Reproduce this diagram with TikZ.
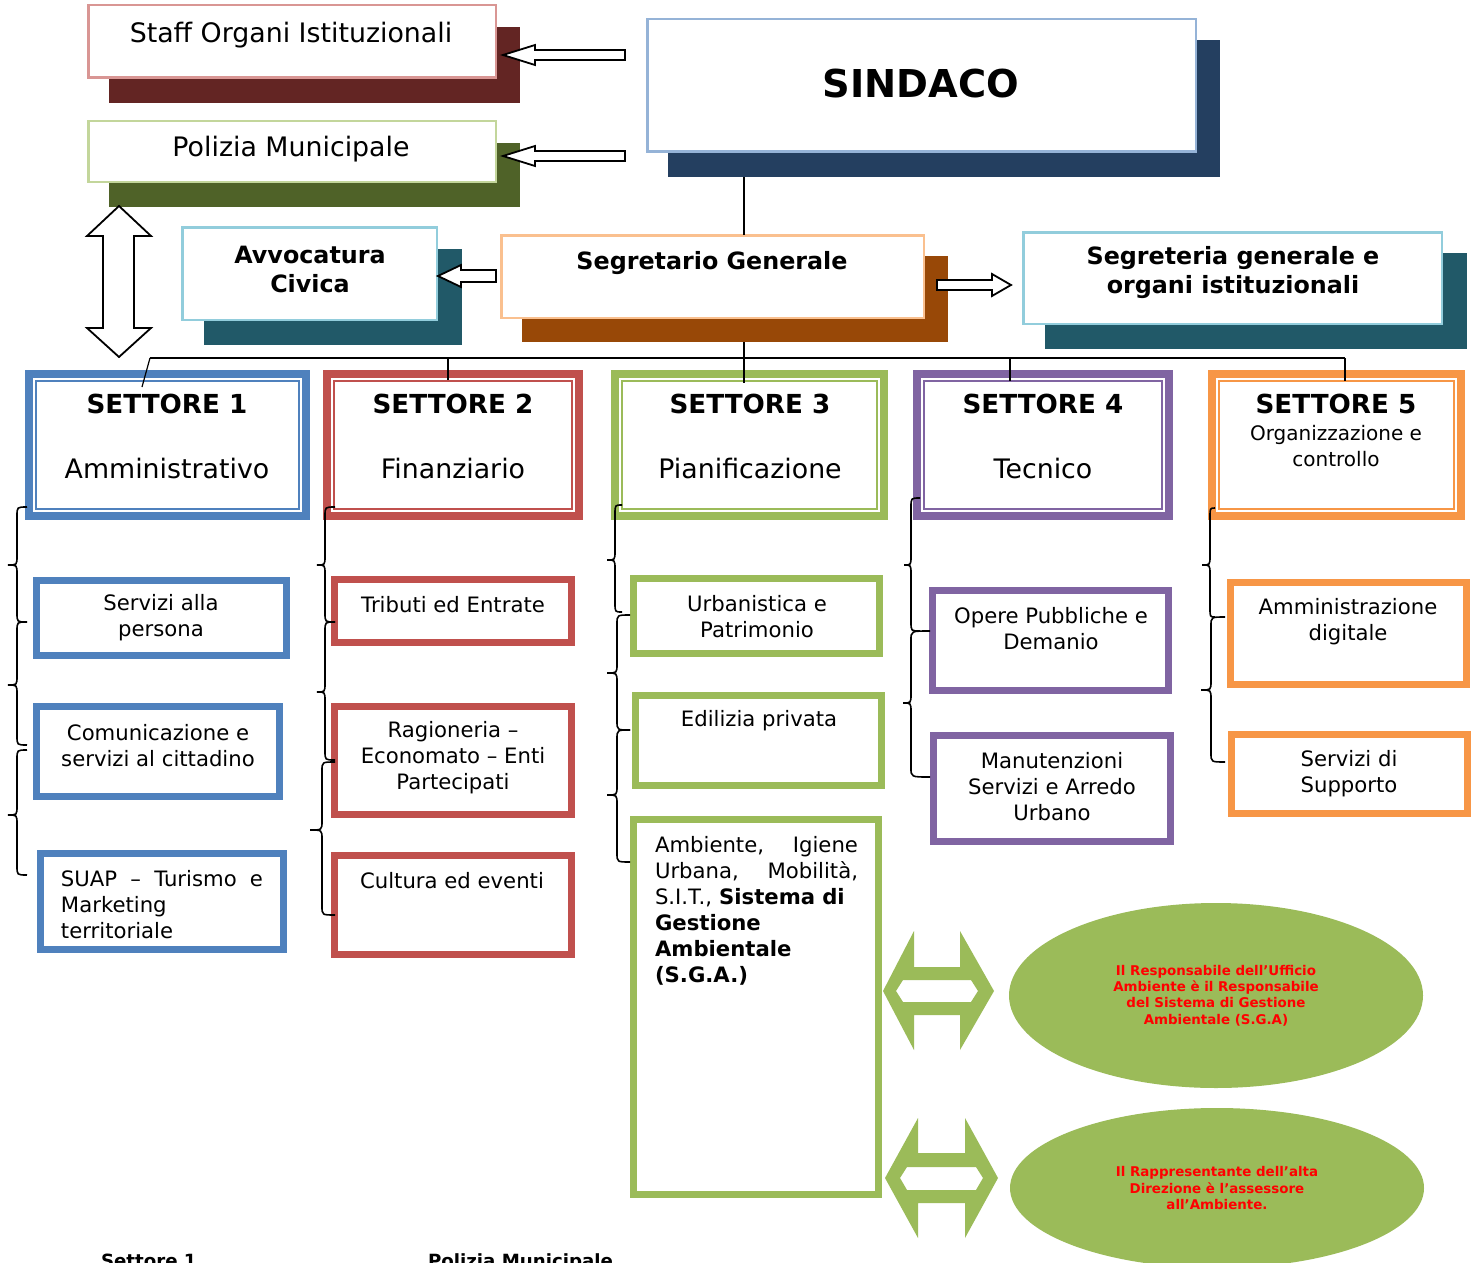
\documentclass[tikz,border=0pt]{standalone}
\usepackage{fontspec}
\setmainfont{DejaVu Sans}
\usetikzlibrary{shapes.geometric,calc}
\definecolor{cStaffB}{HTML}{D99694}
\definecolor{cStaffS}{HTML}{632523}
\definecolor{cPolB}{HTML}{C3D69B}
\definecolor{cPolS}{HTML}{4F6228}
\definecolor{cSindB}{HTML}{95B3D7}
\definecolor{cSindS}{HTML}{243F60}
\definecolor{cCyanB}{HTML}{92CDDC}
\definecolor{cTealS}{HTML}{215968}
\definecolor{cSegB}{HTML}{FAC08F}
\definecolor{cSegS}{HTML}{984807}
\definecolor{cBlue}{HTML}{4F81BD}
\definecolor{cRed}{HTML}{C0504D}
\definecolor{cGreen}{HTML}{9BBB59}
\definecolor{cPurple}{HTML}{8064A2}
\definecolor{cOrange}{HTML}{F79646}
\definecolor{cText}{HTML}{FF0000}
\newcommand{\ftitle}{\fontsize{13.4}{16}\selectfont}
\newcommand{\fsind}{\bfseries\fontsize{19.2}{23}\selectfont}
\newcommand{\fboldt}{\bfseries\fontsize{11.9}{14.5}\selectfont}
\newcommand{\fset}{\bfseries\fontsize{13.1}{16}\selectfont}
\newcommand{\fsub}{\fontsize{10.6}{13}\selectfont}
\newcommand{\fsfive}{\fontsize{10}{13}\selectfont}
\newcommand{\fell}{\bfseries\fontsize{6.7}{8.2}\selectfont}
\newcommand{\fbot}{\bfseries\fontsize{9.1}{11}\selectfont}
\newcommand{\mybrace}[6]{\draw[brace] (#1,#4) .. controls (#2,#4) .. (#2,{#4+9}) -- (#2,{#5-9}) .. controls (#2,#5) .. (#3,#5) .. controls (#2,#5) .. (#2,{#5+9}) -- (#2,{#6-9}) .. controls (#2,#6) .. (#1,#6);}
\begin{document}
\begin{tikzpicture}[x=0.5pt,y=-0.5pt,
  every node/.style={inner sep=0pt,outer sep=0pt},
  sz/.style 2 args={minimum width=#1*0.5pt,minimum height=#2*0.5pt},
  shadowbox/.style={rectangle,fill=#1,draw=none},
  frontbox/.style={rectangle,draw=#1,fill=white,line width=1.25pt},
  settorebox/.style={rectangle,draw=#1,fill=white,line width=4pt},
  subbox/.style={rectangle,draw=#1,fill=white,line width=3.5pt},
  innerline/.style={draw=#1,line width=1pt},
  conn/.style={draw=black,line width=0.6pt},
  hollow/.style={draw=black,fill=white,line width=0.9pt,line join=miter},
  brace/.style={draw=black,line width=0.8pt},
  greenarrow/.style={fill=cGreen,draw=none},
  ell/.style={ellipse,fill=cGreen,draw=none,text=cText,align=center,font=\fell}
]
\useasboundingbox (0,0) rectangle (1478,1263);
\clip (0,0) rectangle (1478,1263);
\fill[white] (0,0) rectangle (1478,1263);

% top boxes
\node[shadowbox=cStaffS,sz={411}{76}] (staffS) at (314.5,65) {};
\node[frontbox=cStaffB,sz={407.5}{72.5}] (staffF) at (292,41.5) {};
\node[shadowbox=cPolS,sz={411}{64}] (polS) at (314.5,175) {};
\node[frontbox=cPolB,sz={407.5}{60.5}] (polF) at (292,151.5) {};
\node[shadowbox=cSindS,sz={552}{137}] (sindS) at (944,108.5) {};
\node[frontbox=cSindB,sz={548.5}{132.5}] (sindF) at (921.5,85.5) {};
\node[shadowbox=cTealS,sz={258}{96}] (avvS) at (333,297) {};
\node[frontbox=cCyanB,sz={254.5}{92.5}] (avvF) at (309.5,273.5) {};
\node[shadowbox=cSegS,sz={426}{86}] (segS) at (735,299) {};
\node[frontbox=cSegB,sz={422.5}{82.5}] (segF) at (712.5,276.5) {};
\node[shadowbox=cTealS,sz={422}{96}] (segrS) at (1256,301) {};
\node[frontbox=cCyanB,sz={418.5}{91.5}] (segrF) at (1232.5,278) {};

% hollow arrows
\draw[hollow] (503,55) -- (535,45) -- (535,50) -- (625,50) -- (625,60) -- (535,60) -- (535,65) -- cycle;
\draw[hollow] (503,156) -- (535,146) -- (535,151) -- (625,151) -- (625,161) -- (535,161) -- (535,166) -- cycle;
\draw[hollow] (438,276) -- (461,265) -- (461,270) -- (496,270) -- (496,282) -- (461,282) -- (461,287) -- cycle;
\draw[hollow] (1011,285) -- (992,274) -- (992,280) -- (937,280) -- (937,290) -- (992,290) -- (992,296) -- cycle;
\draw[hollow] (119,206) -- (151,236) -- (134,236) -- (134,328) -- (151,328) -- (119,357) -- (87,328) -- (103,328) -- (103,236) -- (87,236) -- cycle;

% settore boxes
\node[settorebox=cBlue,sz={277}{142}] (s1) at (167.5,445) {};
\node[settorebox=cRed,sz={252}{142}] (s2) at (453,445) {};
\node[settorebox=cGreen,sz={269}{142}] (s3) at (749.5,445) {};
\node[settorebox=cPurple,sz={252}{142}] (s4) at (1043,445) {};
\node[settorebox=cOrange,sz={249}{142}] (s5) at (1336.5,445) {};
\draw[innerline=cBlue] ([shift={(7,7)}]s1.north west) rectangle ([shift={(-7,-7)}]s1.south east);
\draw[innerline=cRed] ([shift={(7,7)}]s2.north west) rectangle ([shift={(-7,-7)}]s2.south east);
\draw[innerline=cGreen] ([shift={(7,7)}]s3.north west) rectangle ([shift={(-7,-7)}]s3.south east);
\draw[innerline=cPurple] ([shift={(7,7)}]s4.north west) rectangle ([shift={(-7,-7)}]s4.south east);
\draw[innerline=cOrange] ([shift={(7,7)}]s5.north west) rectangle ([shift={(-7,-7)}]s5.south east);

% connectors
\coordinate (busL) at (150,358);
\coordinate (busM) at (744,358);
\coordinate (busR) at (1345,358);
\coordinate (bus2) at (448,358);
\coordinate (bus4) at (1010,358);
\draw[conn] (sindS.south -| busM) -- (segF.north -| busM);
\draw[conn] (segS.south -| busM) -- ($(s3.north -| busM)+(0,9)$);
\draw[conn] (busL) -- (busR);
\draw[conn] (busL) -- ($(s1.north)+(-25.5,13)$);
\draw[conn] (bus2) -- ($(s2.north -| bus2)+(0,6)$);
\draw[conn] (bus4) -- ($(s4.north -| bus4)+(0,7)$);
\draw[conn] (busR) -- ($(s5.north -| busR)+(0,7)$);

% sub boxes
\node[subbox=cBlue,sz={250}{75}] (a1) at (161.5,618) {};
\node[subbox=cBlue,sz={243}{90}] (a2) at (158,751.5) {};
\node[subbox=cBlue,sz={243}{96}] (a3) at (162,901.5) {};
\node[subbox=cRed,sz={237}{63}] (b1) at (453,611) {};
\node[subbox=cRed,sz={237}{108}] (b2) at (453,760.5) {};
\node[subbox=cRed,sz={237}{99}] (b3) at (453,905) {};
\node[subbox=cGreen,sz={246}{75}] (c1) at (756.5,616) {};
\node[subbox=cGreen,sz={246}{90}] (c2) at (758.5,740.5) {};
\node[subbox=cGreen,sz={245}{375}] (c3) at (756,1007) {};
\node[subbox=cPurple,sz={236}{100}] (d1) at (1050.5,640.5) {};
\node[subbox=cPurple,sz={237}{106}] (d2) at (1052,788.5) {};
\node[subbox=cOrange,sz={236}{102}] (e1) at (1348.5,633.5) {};
\node[subbox=cOrange,sz={236}{79}] (e2) at (1349.5,774) {};

% braces
\mybrace{27}{17}{8}{507}{565}{622}
\mybrace{27}{17}{8}{622}{685}{745}
\mybrace{27}{17}{8}{750}{815}{875}
\mybrace{335}{325}{317}{507}{565}{622}
\mybrace{335}{325}{317}{622}{692}{760}
\mybrace{335}{322}{310}{762}{830}{915}
\mybrace{622}{615}{607}{505}{560}{612}
\mybrace{630}{617}{607}{615}{673}{730}
\mybrace{630}{617}{607}{730}{795}{862}
\mybrace{920}{911}{904}{498}{565}{631}
\mybrace{930}{911}{903}{631}{703}{777}
\mybrace{1215}{1210}{1202}{508}{565}{617}
\mybrace{1225}{1211}{1201}{617}{690}{762}

% green arrows
\path[greenarrow,even odd rule] (883,991) -- (914,931) -- (914,967) -- (960,967) -- (960,931) -- (994,991) -- (960,1050) -- (960,1015) -- (914,1015) -- (914,1050) -- cycle
  (896,991) -- (903,980) -- (971,980) -- (978,991) -- (971,1002) -- (903,1002) -- cycle;
\path[greenarrow,even odd rule] (885,1178) -- (918,1118) -- (918,1153) -- (965,1153) -- (965,1118) -- (998,1178) -- (965,1238) -- (965,1203) -- (918,1203) -- (918,1238) -- cycle
  (900,1178) -- (907,1167) -- (976,1167) -- (983,1178) -- (976,1190) -- (907,1190) -- cycle;

% ellipses
\node[ell,minimum width=207pt,minimum height=92.5pt] (ell1) at (1216,995.5) {Il Responsabile dell’Ufficio\\Ambiente è il Responsabile\\del Sistema di Gestione\\Ambientale (S.G.A)};
\node[ell,minimum width=207pt,minimum height=80pt] (ell2) at (1217,1188) {Il Rappresentante dell’alta\\Direzione è l’assessore\\all’Ambiente.};

% texts
\node[font=\ftitle] (tStaff) at (291,35) {Staff Organi Istituzionali};
\node[font=\ftitle] (tPol) at (291,149) {Polizia Municipale};
\node[font=\fsind] (tSind) at (921,84) {SINDACO};
\node[font=\fboldt,align=center] (tAvv) at (310,269) {Avvocatura\\Civica};
\node[font=\fboldt] (tSeg) at (712,263) {Segretario Generale};
\node[font=\fboldt,align=center] (tSegr) at (1233,273) {Segreteria generale e\\organi istituzionali};

\node[font=\fset] (tS1) at (167,404) {SETTORE 1};
\node[font=\fset] (tS2) at (453,404) {SETTORE 2};
\node[font=\fset] (tS3) at (750,404) {SETTORE 3};
\node[font=\fset] (tS4) at (1043,404) {SETTORE 4};
\node[font=\fset] (tS5) at (1336,404) {SETTORE 5};
\node[font=\ftitle] (tS1b) at (167,469) {Amministrativo};
\node[font=\ftitle] (tS2b) at (453,469) {Finanziario};
\node[font=\ftitle] (tS3b) at (750,469) {Pianificazione};
\node[font=\ftitle] (tS4b) at (1043,469) {Tecnico};
\node[font=\fsfive,align=center] (tS5b) at (1336,446) {Organizzazione e\\controllo};

\node[font=\fsub,align=center] (ta1) at (161,618) {Servizi alla\\persona};
\node[font=\fsub,align=center] (ta2) at (158,746) {Comunicazione e\\servizi al cittadino};
\node[font=\fsub,text width=101pt,align=left,anchor=north west] (ta3) at (61,868) {\strut SUAP\hfill–\hfill Turismo\hfill e\\Marketing\\territoriale};
\node[font=\fsub] (tb1) at (453,605) {Tributi ed Entrate};
\node[font=\fsub,align=center] (tb2) at (453,758) {Ragioneria –\\Economato – Enti\\Partecipati};
\node[font=\fsub] (tb3) at (452,881) {Cultura ed eventi};
\node[font=\fsub,align=center] (tc1) at (757,617) {Urbanistica e\\Patrimonio};
\node[font=\fsub] (tc2) at (759,721) {Edilizia privata};
\node[font=\fsub,text width=101.5pt,align=left,anchor=north west] (tc3) at (655,834) {\strut Ambiente,\hfill Igiene\\Urbana,\hfill Mobilità,\\S.I.T., \textbf{Sistema di}\\\textbf{Gestione}\\\textbf{Ambientale}\\\textbf{(S.G.A.)}};
\node[font=\fsub,align=center] (td1) at (1051,629) {Opere Pubbliche e\\Demanio};
\node[font=\fsub,align=center] (td2) at (1052,787) {Manutenzioni\\Servizi e Arredo\\Urbano};
\node[font=\fsub,align=center] (te1) at (1348,622) {Amministrazione\\digitale};
\node[font=\fsub,align=center] (te2) at (1349,774) {Servizi di\\Supporto};

\node[font=\fbot,anchor=base west] (tBot1) at (101,1267) {Settore 1};
\node[font=\fbot,anchor=base west] (tBot2) at (428,1267) {Polizia Municipale};
\end{tikzpicture}
\end{document}
